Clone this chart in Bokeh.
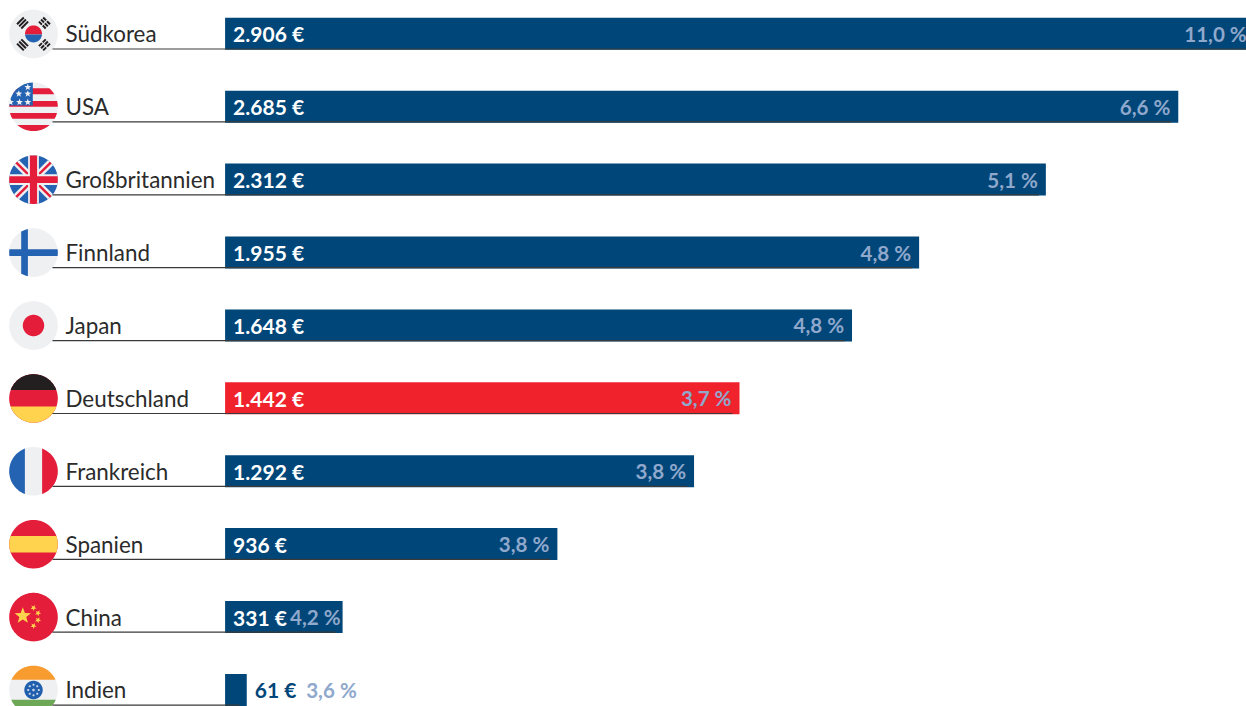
import numpy as np
from bokeh.plotting import figure
from bokeh.models import Range1d, ColumnDataSource
from bokeh.core.properties import value as cv
from bokeh.embed import file_html
from bokeh.resources import INLINE

countries = ["Südkorea", "USA", "Großbritannien", "Finnland", "Japan", "Deutschland", "Frankreich", "Spanien", "China", "Indien"]
values = [2906, 2685, 2312, 1955, 1648, 1442, 1292, 936, 331, 61]
bar_lengths = [2906, 2685, 2312, 1955, 1766, 1449, 1321, 936, 331, 61]
value_labels = ["2.906 €", "2.685 €", "2.312 €", "1.955 €", "1.648 €", "1.442 €", "1.292 €", "936 €", "331 €", "61 €"]
shares = ["11,0 %", "6,6 %", "5,1 %", "4,8 %", "4,8 %", "3,7 %", "3,8 %", "3,8 %", "4,2 %", "3,6 %"]
highlight = "Deutschland"

FONT = "Lato"
W, H = 1246, 706
BLUE, RED_BAR = "#004678", "#f0222c"
PCT = "#8fa8cc"
G, R, B, Y, K = "#eff0f2", "#e41e3a", "#2462b2", "#ffd34d", "#231f20"
ORANGE, GREEN = "#f99c2f", "#6ca856"

PX_PER_EUR = 0.355
PITCH = 72.9
ZERO_PX = 224.6
TOP_PX = 33.3
n = len(countries)
rows = list(range(n))

p = figure(width=W, height=H, output_backend="svg", toolbar_location=None,
           x_range=Range1d(-ZERO_PX / PX_PER_EUR, (W - ZERO_PX) / PX_PER_EUR),
           y_range=Range1d((H - TOP_PX) / PITCH, -TOP_PX / PITCH),
           min_border=0, outline_line_color=None, background_fill_color="white", border_fill_color="white")
p.xaxis.visible = False
p.yaxis.visible = False
p.grid.visible = False
p.extra_x_ranges["px"] = Range1d(0, W)
p.extra_y_ranges["px"] = Range1d(H, 0)


# ---- flag geometry (pixels relative to the flag centre) ----
def circle(r, cx=0.0, cy=0.0, k=120):
    t = np.linspace(0, 2 * np.pi, k, endpoint=False)
    return [(cx + r * np.cos(a), cy + r * np.sin(a)) for a in t]


def clip(poly, a, b, c):
    """keep a*x + b*y <= c"""
    out = []
    for i, q in enumerate(poly):
        s = poly[i - 1]
        fs, fq = a * s[0] + b * s[1] - c, a * q[0] + b * q[1] - c
        if (fs <= 0) != (fq <= 0):
            u = fs / (fs - fq)
            out.append((s[0] + u * (q[0] - s[0]), s[1] + u * (q[1] - s[1])))
        if fq <= 0:
            out.append(q)
    return out


def box(poly, x0=-99, x1=99, y0=-99, y1=99):
    for a, b, c in ((-1, 0, -x0), (1, 0, x1), (0, -1, -y0), (0, 1, y1)):
        poly = clip(poly, a, b, c)
    return poly


def strip(poly, angle, half, lo=-99, hi=99):
    ca, sa = np.cos(angle), np.sin(angle)
    poly = clip(poly, -sa, ca, half)
    poly = clip(poly, sa, -ca, half)
    poly = clip(poly, ca, sa, hi)
    poly = clip(poly, -ca, -sa, -lo)
    return poly


def star(cx, cy, r, rot=-np.pi / 2):
    pts = []
    for i in range(10):
        rad = r if i % 2 == 0 else r * 0.42
        a = rot + i * np.pi / 5
        pts.append((cx + rad * np.cos(a), cy + rad * np.sin(a)))
    return pts


RAD = 24.3
C = circle(RAD)


def flag_korea():
    s = [(C, G), (box(circle(8.5), y1=0.6), R), (box(circle(8.5), y0=0.6), B)]
    for ang, broken in ((-3 * np.pi / 4, False), (-np.pi / 4, True), (3 * np.pi / 4, False), (np.pi / 4, True)):
        ux, uy = np.cos(ang), np.sin(ang)
        pa = ang + np.pi / 2
        for d in (12.5, 15.5, 18.5):
            pts = [(ux * (d + v) + np.cos(pa) * t, uy * (d + v) + np.sin(pa) * t)
                   for t, v in [(-4.8, -1), (4.8, -1), (4.8, 1), (-4.8, 1)]]
            s.append((pts, K))
        if broken:
            s.append(([(ux * (11 + v) + np.cos(pa) * t, uy * (11 + v) + np.sin(pa) * t) for t, v in
                       [(-0.6, 0), (0.6, 0), (0.6, 9.5), (-0.6, 9.5)]], G))
    return s


def flag_usa():
    s = [(C, G)]
    for y0, y1 in ((-18.6, -12.6), (-5.7, 0), (6.2, 12), (18.2, 30)):
        s.append((box(C, y0=y0, y1=y1), R))
    s.append((box(C, x1=-0.7, y1=-1.3), B))
    for sx, sy in ((-5.7, -19.6), (-14.7, -13), (-5.7, -13), (-23, -4.6), (-14, -4.6), (-5.7, -4.6)):
        s.append((star(sx, sy, 3.6), G))
    return s


def flag_uk():
    s = [(C, B)]
    for ang in (np.pi / 4, -np.pi / 4):
        s.append((strip(C, ang, 3.6), G))
    for ang, lo, hi in ((np.pi / 4, -99, -4), (np.pi / 4, 4, 99), (-np.pi / 4, -99, -4), (-np.pi / 4, 4, 99)):
        s.append((strip(C, ang, 1.2, lo, hi), R))
    s.append((box(C, x0=-5.4, x1=5.4), G))
    s.append((box(C, y0=-5.4, y1=5.4), G))
    s.append((box(C, x0=-3.6, x1=3.6), R))
    s.append((box(C, y0=-3.4, y1=3.4), R))
    return s


def flag_finland():
    return [(C, G), (box(C, x0=-12.3, x1=-5.6), B), (box(C, y0=-3.3, y1=3.3), B)]


def flag_japan():
    return [(C, G), (circle(10.7), R)]


def flag_germany():
    return [(C, R), (box(C, y1=-8.5), K), (box(C, y0=8.2), Y)]


def flag_france():
    return [(C, G), (box(C, x1=-8.6), B), (box(C, x0=8.6), R)]


def flag_spain():
    return [(C, R), (box(C, y0=-8.3, y1=8.3), Y)]


def flag_china():
    s = [(C, R), (star(-10.7, -1.3, 8.6), Y)]
    for sx, sy in ((0, -9.3), (4.5, -4), (4.5, 3), (0, 8.7)):
        s.append((star(sx, sy, 3.2, rot=-np.pi / 3), Y))
    return s


def flag_india():
    s = [(C, G), (box(C, y1=-10.3), ORANGE), (box(C, y0=9.8), GREEN), (circle(9.2), "#1f5fae")]
    for a in np.linspace(0, 2 * np.pi, 8, endpoint=False):
        s.append((circle(1.1, 5.3 * np.cos(a), 5.3 * np.sin(a), 16), "#c9d6ea"))
    s.append((circle(1.3, 0, 0, 16), "#c9d6ea"))
    return s


FLAGS = {"Südkorea": flag_korea, "USA": flag_usa, "Großbritannien": flag_uk, "Finnland": flag_finland,
         "Japan": flag_japan, "Deutschland": flag_germany, "Frankreich": flag_france, "Spanien": flag_spain,
         "China": flag_china, "Indien": flag_india}

fx, fy, fc = [], [], []
for i, name in enumerate(countries):
    cy = 33.4 + PITCH * i
    for poly, col in FLAGS[name]():
        if len(poly) < 3:
            continue
        fx.append([33 + q[0] for q in poly])
        fy.append([cy + q[1] for q in poly])
        fc.append(col)
p.patches(fx, fy, fill_color=fc, line_color=None, x_range_name="px", y_range_name="px")

# ---- bars ----
colors = [RED_BAR if c == highlight else BLUE for c in countries]
src = ColumnDataSource(dict(row=rows, v=bar_lengths, c=colors))
p.hbar(y="row", left=0, right="v", height=32 / PITCH, fill_color="c", line_color=None, source=src)

# baseline under label and bar
bx0 = [(52 - ZERO_PX) / PX_PER_EUR] * n
bx1 = [max(v - 7 / PX_PER_EUR, 0) for v in bar_lengths]
by = [r + (15.2 / PITCH) for r in rows]
p.segment(x0=bx0, x1=bx1, y0=by, y1=by, line_color="#3a3a3a", line_width=1.2)

# ---- texts ----
p.text(x=[(65 - ZERO_PX) / PX_PER_EUR] * n, y=rows, text=countries, text_font=cv(FONT), text_font_size="22.4px",
       text_color="#2b2b2b", text_baseline="middle", text_align="left", y_offset=0)

inside = [v >= 100 for v in values]
lx = [0 if ok else v for ok, v in zip(inside, bar_lengths)]
lc = ["#ffffff" if ok else BLUE for ok in inside]
p.text(x=lx, y=rows, text=value_labels, text_font=cv(FONT), text_font_style="bold", text_font_size="21px",
       text_color=lc, text_baseline="middle", text_align="left", x_offset=8, y_offset=0)

pct_off = [-10 if v > 2800 else (-2 if 100 <= v < 400 else (110 if v < 100 else -8)) for v in values]
p.text(x=bar_lengths, y=rows, text=shares, text_font=cv(FONT), text_font_style="bold", text_font_size="20.6px",
       text_color=PCT, text_baseline="middle", text_align="right", x_offset=pct_off, y_offset=0)

open("out.html", "w").write(file_html(p, INLINE))
